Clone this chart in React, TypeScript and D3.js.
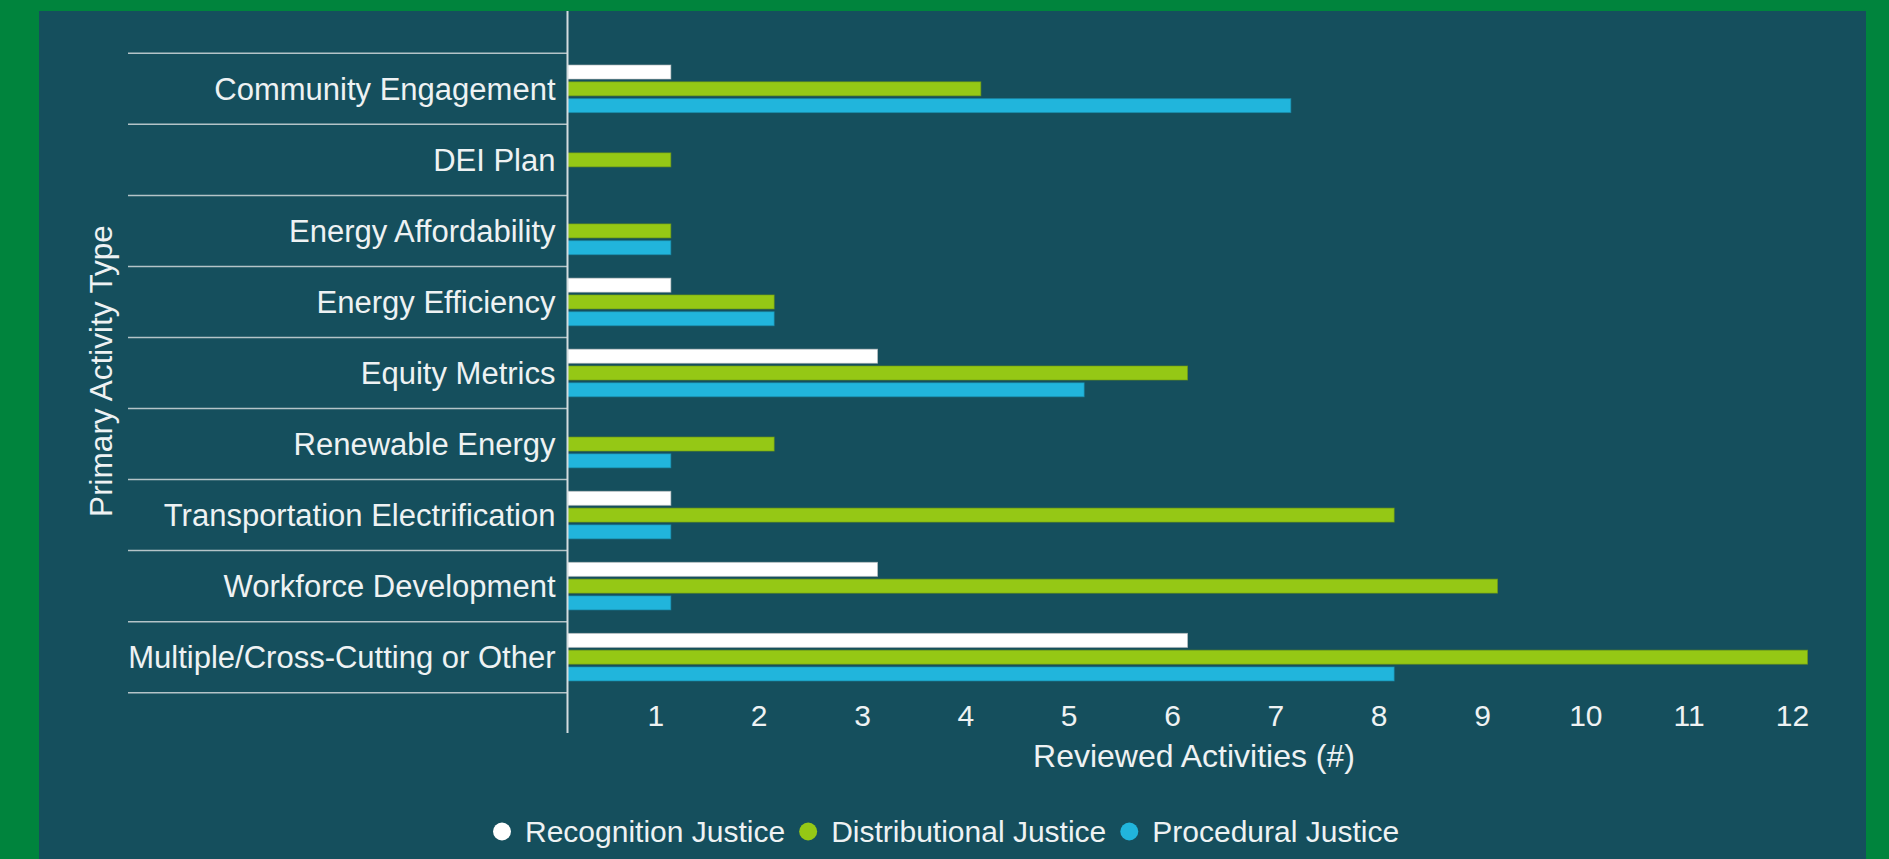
import { useRef, useEffect } from "react";
import * as d3 from "d3";

// data
const categories = [
  "Community Engagement",
  "DEI Plan",
  "Energy Affordability",
  "Energy Efficiency",
  "Equity Metrics",
  "Renewable Energy",
  "Transportation Electrification",
  "Workforce Development",
  "Multiple/Cross-Cutting or Other",
];
const seriesNames = ["Recognition Justice", "Distributional Justice", "Procedural Justice"];
const recognition = [1, 0, 0, 1, 3, 0, 1, 3, 6];
const distributional = [4, 1, 1, 2, 6, 2, 8, 9, 12];
const procedural = [7, 0, 1, 2, 5, 1, 1, 1, 8];
const xTicks = [1, 2, 3, 4, 5, 6, 7, 8, 9, 10, 11, 12];
const colors = ["#ffffff", "#95c815", "#21b5dc"];

const W = 1889;
const H = 859;
const FONT = "'Liberation Sans', Arial, sans-serif";

const App = () => {
  const svgRef = useRef<SVGSVGElement>(null);

  useEffect(() => {
    const svg = d3.select(svgRef.current);
    svg.selectAll("*").remove();

    const values = [recognition, distributional, procedural];

    // fondo verde + panel
    svg.append("rect").attr("width", W).attr("height", H).attr("fill", "#00843d");
    svg
      .append("rect")
      .attr("x", 39)
      .attr("y", 11)
      .attr("width", 1866 - 39)
      .attr("height", H - 11)
      .attr("fill", "#154f5d");

    const axisX = 567.5;
    const x = d3.scaleLinear().domain([0, 12]).range([axisX, 1807.5]);
    const y = d3.scaleBand<string>().domain(categories).range([53.3, 692.7]).padding(0);
    const inner = d3
      .scaleBand<string>()
      .domain(seriesNames)
      .range([0, y.bandwidth()])
      .paddingInner(0.167)
      .paddingOuter(0.7);

    // separadores de categorias
    const seps = [...categories.map((c) => y(c)!), y.range()[1]];
    svg
      .selectAll("line.sep")
      .data(seps)
      .enter()
      .append("line")
      .attr("class", "sep")
      .attr("x1", 128)
      .attr("x2", axisX)
      .attr("y1", (d) => d)
      .attr("y2", (d) => d)
      .attr("stroke", "#b4c4c8")
      .attr("stroke-width", 1.5);

    // barras
    const groups = svg
      .selectAll("g.cat")
      .data(categories)
      .enter()
      .append("g")
      .attr("class", "cat")
      .attr("transform", (c) => `translate(0,${y(c)})`);

    seriesNames.forEach((s, si) => {
      groups
        .filter((c) => values[si][categories.indexOf(c)] > 0)
        .append("rect")
        .attr("x", axisX)
        .attr("y", inner(s)!)
        .attr("width", (c) => x(values[si][categories.indexOf(c)]) - axisX)
        .attr("height", inner.bandwidth())
        .attr("fill", colors[si])
        .attr("stroke", d3.color(colors[si])!.darker(0.7).formatHex())
        .attr("stroke-opacity", 0.6)
        .attr("stroke-width", 1);
    });

    // etiquetas de categorias
    svg
      .selectAll("text.cat")
      .data(categories)
      .enter()
      .append("text")
      .attr("class", "cat")
      .attr("x", axisX - 12)
      .attr("y", (c) => y(c)! + y.bandwidth() / 2 + 11)
      .attr("text-anchor", "end")
      .attr("font-family", FONT)
      .attr("font-size", 31)
      .attr("fill", "#eef2f3")
      .text((c) => c);

    // eje y
    svg
      .append("line")
      .attr("x1", axisX)
      .attr("x2", axisX)
      .attr("y1", 11)
      .attr("y2", 733)
      .attr("stroke", "#d3dcdf")
      .attr("stroke-width", 2);

    // ticks eje x
    svg
      .selectAll("text.tick")
      .data(xTicks)
      .enter()
      .append("text")
      .attr("class", "tick")
      .attr("x", (d) => x(d) - 15)
      .attr("y", 725.5)
      .attr("text-anchor", "middle")
      .attr("font-family", FONT)
      .attr("font-size", 30)
      .attr("fill", "#eef2f3")
      .text((d) => d);

    svg
      .append("text")
      .attr("x", 1194)
      .attr("y", 767)
      .attr("text-anchor", "middle")
      .attr("font-family", FONT)
      .attr("font-size", 32)
      .attr("fill", "#eef2f3")
      .text("Reviewed Activities (#)");

    svg
      .append("text")
      .attr("transform", `translate(112,371) rotate(-90)`)
      .attr("text-anchor", "middle")
      .attr("font-family", FONT)
      .attr("font-size", 31.5)
      .attr("fill", "#eef2f3")
      .text("Primary Activity Type");

    // leyenda
    const legend = svg.append("g").attr("transform", "translate(493,842)");
    let lx = 0;
    seriesNames.forEach((s, i) => {
      legend
        .append("circle")
        .attr("cx", lx + 9)
        .attr("cy", -10.5)
        .attr("r", 9)
        .attr("fill", colors[i]);
      const t = legend
        .append("text")
        .attr("x", lx + 32)
        .attr("y", 0)
        .attr("font-family", FONT)
        .attr("font-size", 30)
        .attr("fill", "#eef2f3")
        .text(s);
      const w = (t.node() as SVGTextElement).getComputedTextLength();
      lx += 32 + w + 14;
    });
  }, []);

  return (
    <svg
      ref={svgRef}
      width={W}
      height={H}
      style={{ position: "absolute", left: 0, top: 0, display: "block" }}
    ></svg>
  );
};

export default App;
